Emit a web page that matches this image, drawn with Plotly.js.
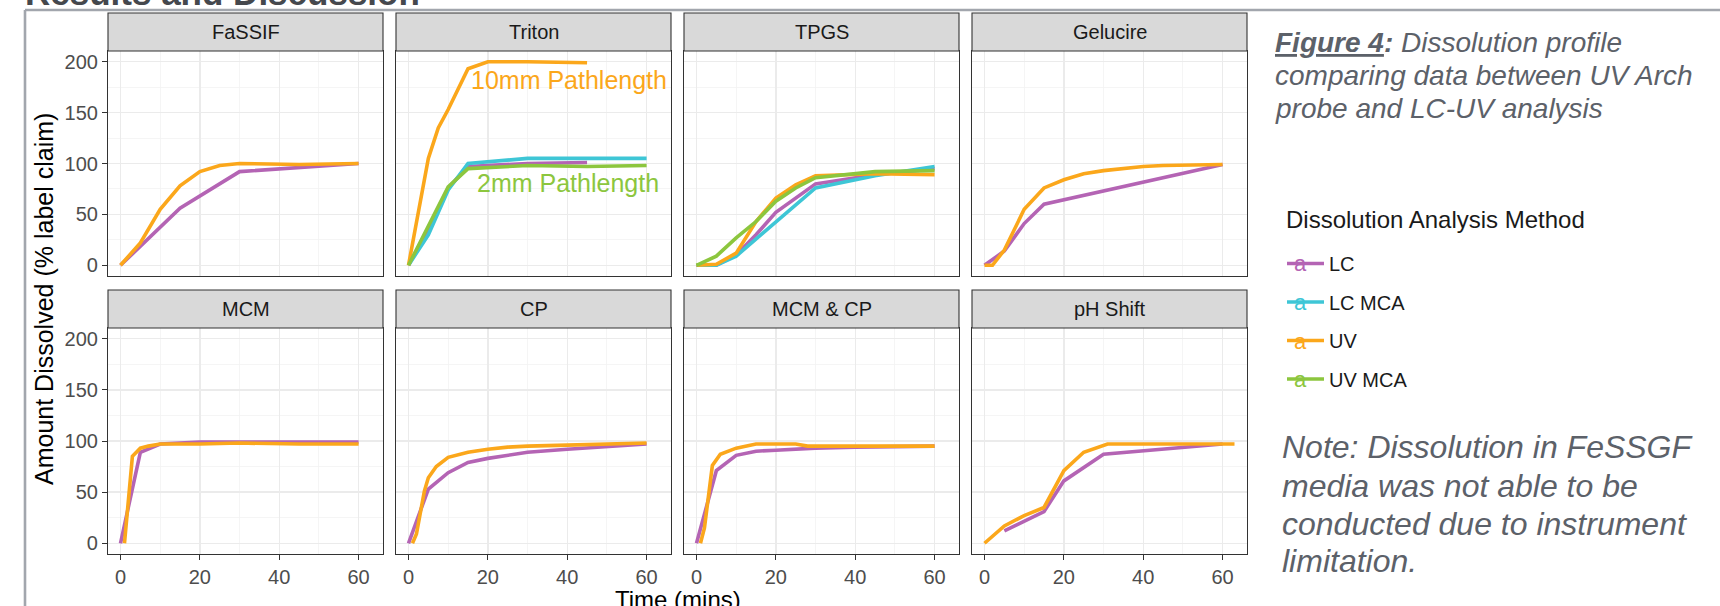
<!DOCTYPE html>
<html>
<head>
<meta charset="utf-8">
<script src="https://cdn.plot.ly/plotly-3.0.1.min.js"></script>
<style>
  html, body { margin: 0; padding: 0; background: #ffffff; }
  #chart { width: 1720px; height: 606px; }
</style>
</head>
<body>
<div id="chart"></div>
<script>
// ---------------- DATA ----------------
const panels = ['FaSSIF', 'Triton', 'TPGS', 'Gelucire', 'MCM', 'CP', 'MCM & CP', 'pH Shift'];
const methods = ['LC', 'LC MCA', 'UV', 'UV MCA'];
const xTicks = [0, 20, 40, 60];
const yTicks = [0, 50, 100, 150, 200];

// FaSSIF
const fassif_LC_t = [0, 15, 30, 60];
const fassif_LC_y = [0, 56, 92, 100];
const fassif_UV_t = [0, 5, 10, 15, 20, 25, 30, 45, 60];
const fassif_UV_y = [0, 22, 55, 78, 92, 98, 100, 99, 100];

// Triton
const triton_LC_t = [0, 5, 10, 15, 30, 45];
const triton_LC_y = [0, 36, 76, 97, 100, 101];
const triton_LCMCA_t = [0, 5, 10, 15, 30, 45, 60];
const triton_LCMCA_y = [0, 30, 74, 100, 105, 105, 105];
const triton_UV_t = [0, 2.5, 5, 7.5, 10, 15, 20, 30, 45];
const triton_UV_y = [0, 55, 105, 135, 153, 193, 200, 200, 199];
const triton_UVMCA_t = [0, 5, 10, 15, 30, 45, 60];
const triton_UVMCA_y = [0, 38, 77, 95, 98, 97, 98];

// TPGS
const tpgs_LC_t = [0, 5, 10, 15, 20, 30, 45, 60];
const tpgs_LC_y = [0, 0, 10, 30, 52, 80, 89, 95];
const tpgs_LCMCA_t = [0, 5, 10, 15, 20, 30, 45, 60];
const tpgs_LCMCA_y = [0, 0, 9, 26, 43, 76, 88, 97];
const tpgs_UV_t = [0, 5, 10, 15, 20, 25, 30, 45, 60];
const tpgs_UV_y = [0, 1, 12, 43, 66, 79, 88, 90, 89];
const tpgs_UVMCA_t = [0, 5, 10, 15, 20, 25, 30, 45, 60];
const tpgs_UVMCA_y = [0, 9, 27, 43, 63, 76, 86, 92, 93];

// Gelucire
const gelucire_LC_t = [0, 5, 10, 15, 60];
const gelucire_LC_y = [0, 14, 41, 60, 99];
const gelucire_UV_t = [0, 2, 5, 10, 15, 20, 25, 30, 40, 45, 60];
const gelucire_UV_y = [0, 0, 15, 55, 76, 84, 90, 93, 97, 98, 99];

// MCM
const mcm_LC_t = [0, 5, 10, 15, 20, 30, 45, 60];
const mcm_LC_y = [0, 89, 97, 98, 99, 99, 99, 99];
const mcm_UV_t = [1, 3, 5, 7, 10, 15, 20, 30, 45, 60];
const mcm_UV_y = [0, 85, 93, 95, 97, 97, 97, 98, 97, 97];

// CP
const cp_LC_t = [0, 5, 10, 15, 20, 30, 40, 60];
const cp_LC_y = [0, 53, 69, 79, 83, 89, 92, 97];
const cp_UV_t = [1, 2, 4, 5, 7, 10, 15, 20, 25, 30, 40, 50, 60];
const cp_UV_y = [0, 9, 51, 64, 75, 84, 89, 92, 94, 95, 96, 97, 98];

// MCM & CP
const mcmcp_LC_t = [0, 5, 10, 15, 20, 30, 40, 60];
const mcmcp_LC_y = [0, 71, 86, 90, 91, 93, 94, 95];
const mcmcp_UV_t = [1, 2, 4, 6, 10, 15, 20, 25, 28, 30, 45, 60];
const mcmcp_UV_y = [0, 15, 76, 87, 93, 97, 97, 97, 95, 95, 95, 95];

// pH Shift
const ph_LC_t = [5, 15, 20, 30, 60];
const ph_LC_y = [12, 31, 61, 87, 97];
const ph_UV_t = [0, 5, 10, 15, 20, 25, 31, 45, 60, 63];
const ph_UV_y = [0, 17, 27, 35, 71, 89, 97, 97, 97, 97];

// series per panel: [panel index, method, t, y]
const series = [
  [0, 'LC', fassif_LC_t, fassif_LC_y],
  [0, 'UV', fassif_UV_t, fassif_UV_y],
  [1, 'LC', triton_LC_t, triton_LC_y],
  [1, 'LC MCA', triton_LCMCA_t, triton_LCMCA_y],
  [1, 'UV', triton_UV_t, triton_UV_y],
  [1, 'UV MCA', triton_UVMCA_t, triton_UVMCA_y],
  [2, 'LC', tpgs_LC_t, tpgs_LC_y],
  [2, 'LC MCA', tpgs_LCMCA_t, tpgs_LCMCA_y],
  [2, 'UV', tpgs_UV_t, tpgs_UV_y],
  [2, 'UV MCA', tpgs_UVMCA_t, tpgs_UVMCA_y],
  [3, 'LC', gelucire_LC_t, gelucire_LC_y],
  [3, 'UV', gelucire_UV_t, gelucire_UV_y],
  [4, 'LC', mcm_LC_t, mcm_LC_y],
  [4, 'UV', mcm_UV_t, mcm_UV_y],
  [5, 'LC', cp_LC_t, cp_LC_y],
  [5, 'UV', cp_UV_t, cp_UV_y],
  [6, 'LC', mcmcp_LC_t, mcmcp_LC_y],
  [6, 'UV', mcmcp_UV_t, mcmcp_UV_y],
  [7, 'LC', ph_LC_t, ph_LC_y],
  [7, 'UV', ph_UV_t, ph_UV_y]
];

// ---------------- STYLE ----------------
const colors = { 'LC': '#B464B4', 'LC MCA': '#3EC6D6', 'UV': '#FBA71B', 'UV MCA': '#8CC63E' };
const FONT = 'Liberation Sans, Arial, Helvetica, sans-serif';
const W = 1720, H = 606;
const px = v => v / W;
const py = v => 1 - v / H;

const colX = [108, 396, 684, 972];
const panelW = 275;
const rowPlot = [[51, 276], [328, 554]];
const stripH = 38;

// ---------------- TRACES ----------------
const traces = [];
const shown = {};
methods.forEach(m => {
  series.filter(s => s[1] === m).forEach(s => {
    const idx = s[0];
    const sfx = idx === 0 ? '' : String(idx + 1);
    traces.push({
      type: 'scatter', mode: 'lines',
      x: s[2], y: s[3],
      xaxis: 'x' + sfx, yaxis: 'y' + sfx,
      name: m, legendgroup: m,
      showlegend: !shown[m],
      line: { color: colors[m], width: 3.6 },
      hoverinfo: 'skip'
    });
    shown[m] = true;
  });
});

// ---------------- LAYOUT ----------------
const legendTop = 244;
const layout = {
  width: W, height: H,
  margin: { l: 0, r: 0, t: 0, b: 0 },
  paper_bgcolor: '#ffffff', plot_bgcolor: '#ffffff',
  font: { family: FONT, color: '#1A1A1A' },
  showlegend: true,
  legend: {
    x: px(1282), xanchor: 'left', y: py(legendTop), yanchor: 'top',
    bgcolor: 'rgba(0,0,0,0)', borderwidth: 0,
    traceorder: 'grouped', tracegroupgap: 9.5, itemwidth: 37,
    font: { size: 20, color: '#1A1A1A', family: FONT }
  },
  shapes: [], annotations: []
};

panels.forEach((p, i) => {
  const col = i % 4, row = Math.floor(i / 4);
  const sfx = i === 0 ? '' : String(i + 1);
  const x0 = colX[col], x1 = x0 + panelW;
  const [yt, yb] = rowPlot[row];
  layout['xaxis' + sfx] = {
    domain: [px(x0), px(x1)], anchor: 'y' + sfx,
    range: [-3.15, 66.15], tickmode: 'array', tickvals: xTicks,
    showticklabels: row === 1, ticks: row === 1 ? 'outside' : '',
    ticklen: 5, tickcolor: '#333333', tickwidth: 1,
    tickfont: { size: 20, color: '#4D4D4D', family: FONT },
    showgrid: true, gridcolor: '#EBEBEB', gridwidth: 1.3,
    minor: { tickvals: [10, 30, 50], showgrid: true, gridcolor: '#F3F3F3', gridwidth: 0.8, ticks: '' },
    showline: true, mirror: true, linecolor: '#333333', linewidth: 1.1,
    zeroline: false, fixedrange: true
  };
  layout['yaxis' + sfx] = {
    domain: [py(yb), py(yt)], anchor: 'x' + sfx,
    range: [-10.5, 210.5], tickmode: 'array', tickvals: yTicks,
    showticklabels: col === 0, ticks: col === 0 ? 'outside' : '',
    ticklen: 5, tickcolor: '#333333', tickwidth: 1,
    tickfont: { size: 20, color: '#4D4D4D', family: FONT },
    showgrid: true, gridcolor: '#EBEBEB', gridwidth: 1.3,
    minor: { tickvals: [25, 75, 125, 175], showgrid: true, gridcolor: '#F3F3F3', gridwidth: 0.8, ticks: '' },
    showline: true, mirror: true, linecolor: '#333333', linewidth: 1.1,
    zeroline: false, fixedrange: true
  };
  // strip
  layout.shapes.push({
    type: 'rect', xref: 'paper', yref: 'paper',
    x0: px(x0), x1: px(x1), y0: py(yt), y1: py(yt - stripH),
    fillcolor: '#D9D9D9', line: { color: '#333333', width: 1.1 }
  });
  layout.annotations.push({
    xref: 'paper', yref: 'paper', x: px((x0 + x1) / 2), y: py(yt - stripH / 2),
    xanchor: 'center', yanchor: 'middle', showarrow: false,
    text: p, font: { size: 20, color: '#1A1A1A', family: FONT }
  });
});

// frame lines of the poster box
layout.shapes.push({ type: 'line', xref: 'paper', yref: 'paper', x0: px(25), x1: 1.01, y0: py(10), y1: py(10), line: { color: '#A2A6AD', width: 2.6 } });
layout.shapes.push({ type: 'line', xref: 'paper', yref: 'paper', x0: px(25), x1: px(25), y0: py(10), y1: -0.01, line: { color: '#A2A6AD', width: 2.6 } });

// in-panel labels (Triton)
layout.annotations.push({ xref: 'x2', yref: 'y2', x: 15.3, y: 182, xanchor: 'left', yanchor: 'middle', showarrow: false,
  text: '10mm Pathlength', font: { size: 25, color: colors['UV'], family: FONT } });
layout.annotations.push({ xref: 'x2', yref: 'y2', x: 16.8, y: 81, xanchor: 'left', yanchor: 'middle', showarrow: false,
  text: '2mm Pathlength', font: { size: 25, color: colors['UV MCA'], family: FONT } });

// axis titles
layout.annotations.push({ xref: 'paper', yref: 'paper', x: px(44), y: py(299), textangle: -90,
  xanchor: 'center', yanchor: 'middle', showarrow: false,
  text: 'Amount Dissolved (% label claim)', font: { size: 25, color: '#000000', family: FONT } });
layout.annotations.push({ xref: 'paper', yref: 'paper', x: px(678), y: py(584),
  xanchor: 'center', yanchor: 'top', showarrow: false,
  text: 'Time (mins)', font: { size: 24, color: '#000000', family: FONT } });

// clipped heading at the top
layout.annotations.push({ xref: 'paper', yref: 'paper', x: px(23), y: py(-8),
  xanchor: 'left', yanchor: 'middle', showarrow: false,
  text: '<b>Results and Discussion</b>', font: { size: 35, color: '#45484D', family: FONT } });

// legend title and key glyphs
layout.annotations.push({ xref: 'paper', yref: 'paper', x: px(1284), y: py(219.7),
  xanchor: 'left', yanchor: 'middle', showarrow: false,
  text: 'Dissolution Analysis Method', font: { size: 24, color: '#1A1A1A', family: FONT } });
const keyY = [263, 301.5, 340, 378.5];
methods.forEach((m, k) => layout.annotations.push({
  xref: 'paper', yref: 'paper', x: px(1300), y: py(keyY[k] + 1),
  xanchor: 'center', yanchor: 'middle', showarrow: false,
  text: 'a', font: { size: 22, color: colors[m], family: FONT } }));

// caption
const capColor = '#5C6169';
const capLines = [
  '<b><i><u>Figure 4</u>:</i></b><i> Dissolution profile</i>',
  '<i>comparing data between UV Arch</i>',
  '<i>probe and LC-UV analysis</i>'
];
const capY = [42.3, 75.3, 108.3];
capLines.forEach((t, k) => layout.annotations.push({
  xref: 'paper', yref: 'paper', x: px(1273), y: py(capY[k]), xanchor: 'left', yanchor: 'middle',
  showarrow: false, text: t, font: { size: 28, color: capColor, family: FONT } }));

// note
const noteLines = [
  '<i>Note: Dissolution in FeSSGF</i>',
  '<i>media was not able to be</i>',
  '<i>conducted due to instrument</i>',
  '<i>limitation.</i>'
];
const noteY = [447, 486, 524, 561];
noteLines.forEach((t, k) => layout.annotations.push({
  xref: 'paper', yref: 'paper', x: px(1280), y: py(noteY[k]), xanchor: 'left', yanchor: 'middle',
  showarrow: false, text: t, font: { size: 32, color: capColor, family: FONT } }));

Plotly.newPlot('chart', traces, layout, { displayModeBar: false, staticPlot: true });
</script>
</body>
</html>
